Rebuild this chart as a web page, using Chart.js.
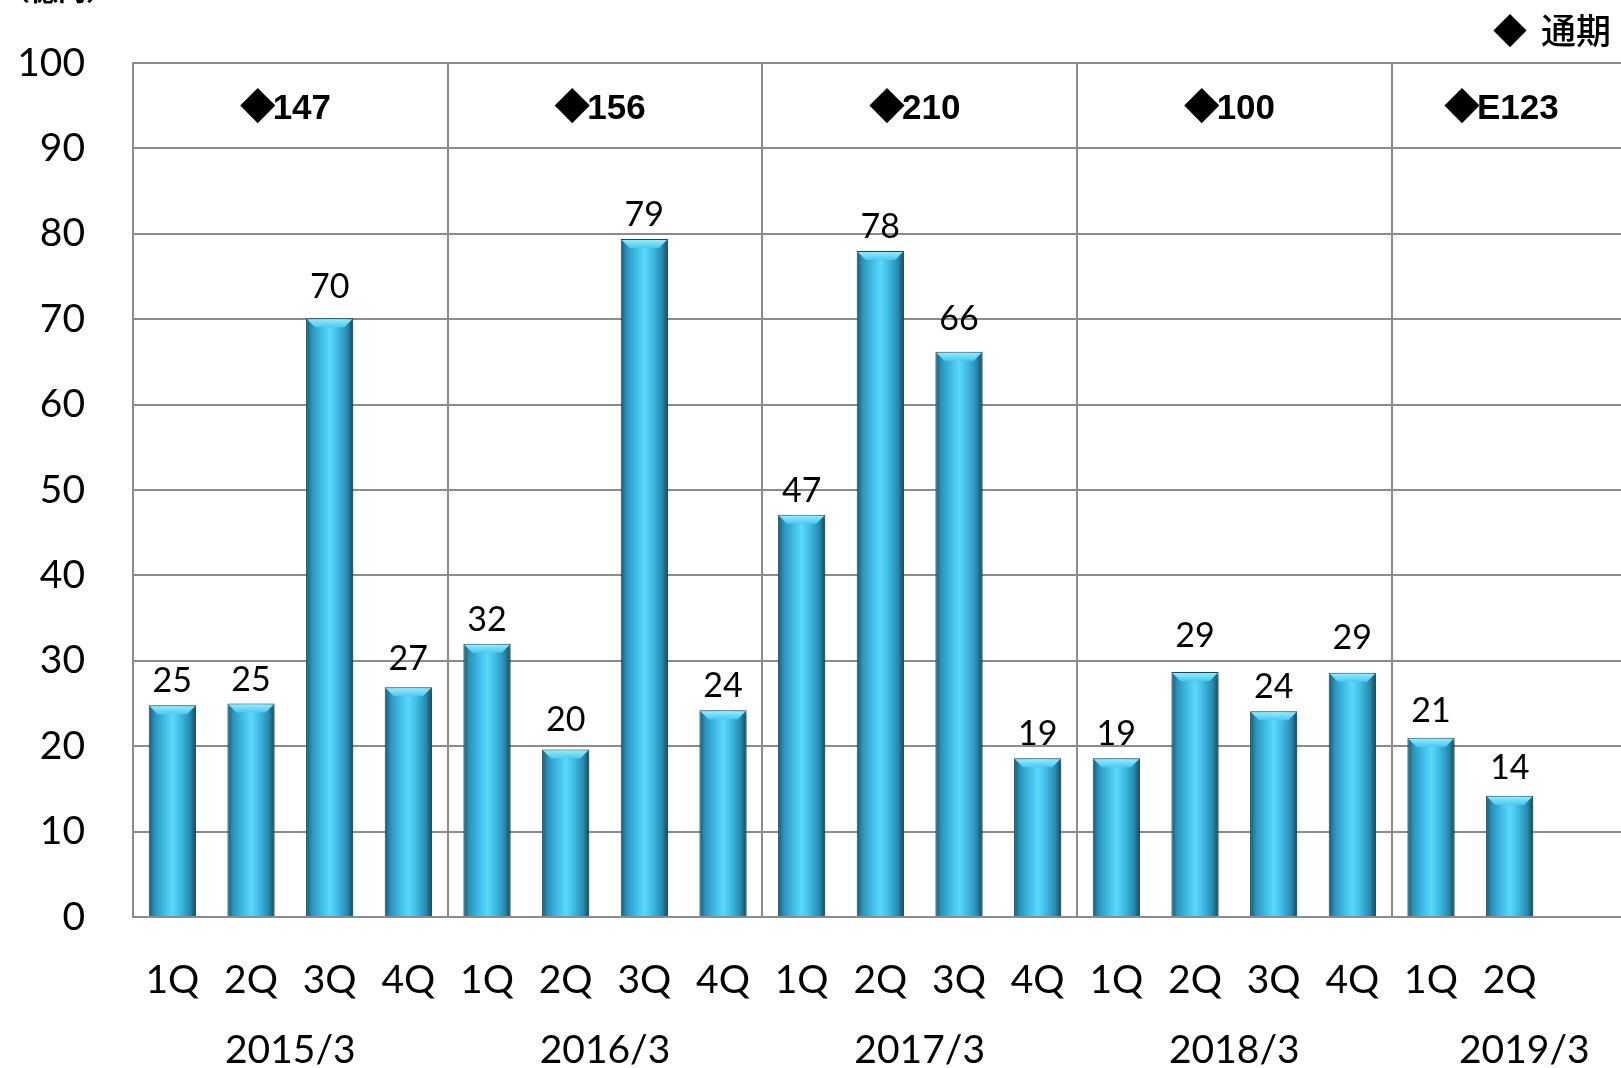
<!DOCTYPE html>
<html><head><meta charset="utf-8">
<script src="https://cdn.jsdelivr.net/npm/chart.js@4.4.0/dist/chart.umd.min.js"></script>
<style>
html,body{margin:0;padding:0;background:#fff;overflow:hidden;width:1621px;height:1068px}
#wrap{position:relative;width:1707px;height:1068px}
</style>
</head><body><div id="wrap"><canvas id="c" width="1707" height="1068"></canvas></div>
<script>
// ---- data ----
const quarters = ['1Q','2Q','3Q','4Q','1Q','2Q','3Q','4Q','1Q','2Q','3Q','4Q','1Q','2Q','3Q','4Q','1Q','2Q','',''];
const fiscalYears = ['2015/3','2016/3','2017/3','2018/3','2019/3'];
const annualTotals = ['147','156','210','100','E123'];
const quarterlyValues = [24.8,25.0,70.1,26.9,32.0,19.6,79.4,24.2,47.1,78.0,66.2,18.6,18.6,28.7,24.1,28.6,21.0,14.2];
const valueLabels = ['25','25','70','27','32','20','79','24','47','78','66','19','19','29','24','29','21','14'];
const yMin = 0, yMax = 100, yStep = 10;
const unitLabel = '（億円）';
const legendLabel = '通期';
const quartersPerYear = 4;

// ---- style ----
const GRID = '#8c8c8c';
const LABEL_GAP = 13;
// extra upward shift (px) of a few manually placed value labels in the original
const labelLift = {2: 7, 3: 4, 5: 6, 10: 9, 13: 12, 15: 11, 16: 3, 17: 4};

const barStyle = {
  id: 'barStyle',
  beforeDatasetsDraw(chart) {
    const ctx = chart.ctx;
    const meta = chart.getDatasetMeta(0);
    meta.data.forEach(el => {
      const {x, width} = el.getProps(['x', 'width'], true);
      const g = ctx.createLinearGradient(x - width / 2, 0, x + width / 2, 0);
      g.addColorStop(0, '#185a73');
      g.addColorStop(0.12, '#2a92ba');
      g.addColorStop(0.35, '#42c0ea');
      g.addColorStop(0.5, '#5cd7fd');
      g.addColorStop(0.65, '#42c0ea');
      g.addColorStop(0.88, '#2788ac');
      g.addColorStop(1, '#14465a');
      el.options = Object.assign({}, el.options, {backgroundColor: g});
    });
    ctx.save();
    ctx.shadowColor = 'rgba(0,0,0,0.3)';
    ctx.shadowBlur = 6;
    ctx.shadowOffsetX = 3;
    ctx.shadowOffsetY = 2;
  },
  afterDatasetsDraw(chart) {
    const ctx = chart.ctx;
    ctx.restore();
    const meta = chart.getDatasetMeta(0);
    meta.data.forEach((el, i) => {
      const {x, y, width} = el.getProps(['x', 'y', 'width'], true);
      const l = x - width / 2 + 1, r = x + width / 2 - 1;
      const h = 9;
      const g = ctx.createLinearGradient(0, y, 0, y + h);
      g.addColorStop(0, '#9af0ff');
      g.addColorStop(1, '#4cc8f0');
      ctx.save();
      ctx.beginPath();
      ctx.moveTo(l, y + 1);
      ctx.lineTo(r, y + 1);
      ctx.lineTo(r - 8, y + h);
      ctx.lineTo(l + 8, y + h);
      ctx.closePath();
      ctx.fillStyle = g;
      ctx.fill();
      ctx.restore();
      // value label
      ctx.save();
      ctx.font = '34px Lato, "Open Sans", sans-serif';
      ctx.fillStyle = '#000';
      ctx.textAlign = 'center';
      ctx.textBaseline = 'alphabetic';
      ctx.fillText(valueLabels[i], x, y - LABEL_GAP - (labelLift[i] || 0));
      ctx.restore();
    });
  }
};

const annotations = {
  id: 'annotations',
  afterDraw(chart) {
    const ctx = chart.ctx;
    const xs = chart.scales.x, ys = chart.scales.y;
    const visibleRight = Math.min(chart.chartArea.right, document.documentElement.clientWidth || 1621);
    const half = (xs.getPixelForValue(1) - xs.getPixelForValue(0)) / 2;
    const bandMid = (ys.getPixelForValue(yMax) + ys.getPixelForValue(yMax - yStep)) / 2;
    fiscalYears.forEach((fy, g) => {
      const left = xs.getPixelForValue(g * quartersPerYear) - half;
      const fullRight = xs.getPixelForValue(g * quartersPerYear + quartersPerYear - 1) + half;
      const right = Math.min(fullRight, visibleRight);
      const cx = (left + right) / 2;
      // header total
      ctx.save();
      ctx.fillStyle = '#000';
      ctx.textBaseline = 'alphabetic';
      const dFont = '36px "Noto Sans CJK JP"';
      const nFont = 'bold 35px "Liberation Sans Narrow", "Liberation Sans", sans-serif';
      ctx.font = dFont;
      const dw = ctx.measureText('◆').width - 3;
      ctx.font = nFont;
      const nw = ctx.measureText(annualTotals[g]).width;
      const start = cx - (dw + nw) / 2 - 5;
      ctx.textAlign = 'left';
      ctx.font = dFont;
      ctx.fillText('◆', start, bandMid + 14);
      ctx.font = nFont;
      ctx.fillText(annualTotals[g], start + dw, bandMid + 13);
      // fiscal year
      ctx.font = '39px Lato, "Open Sans", sans-serif';
      ctx.textAlign = 'center';
      ctx.fillText(fy, cx + (right < fullRight ? 18 : 0), xs.bottom - 5);
      ctx.restore();
    });
    // unit label
    ctx.save();
    ctx.fillStyle = '#000';
    ctx.font = 'bold 28px "Noto Sans CJK JP"';
    ctx.textAlign = 'left';
    ctx.textBaseline = 'alphabetic';
    ctx.fillText(unitLabel, 2, 1);
    // legend
    ctx.textAlign = 'right';
    ctx.font = '500 35px "Noto Sans CJK JP"';
    const lw = ctx.measureText(legendLabel).width;
    ctx.fillText(legendLabel, visibleRight - 10, 44);
    ctx.font = '34px "Noto Sans CJK JP"';
    ctx.fillText('◆', visibleRight - 10 - lw - 14, 44);
    ctx.restore();
  }
};

new Chart(document.getElementById('c'), {
  type: 'bar',
  data: {
    labels: quarters,
    datasets: [{
      data: quarterlyValues,
      backgroundColor: '#3cb6e0',
      borderColor: '#1a4a5c',
      borderWidth: 1,
      borderSkipped: 'bottom',
      categoryPercentage: 1.0,
      barPercentage: 0.6
    }]
  },
  options: {
    responsive: false,
    devicePixelRatio: 1,
    animation: false,
    layout: {padding: {top: 63, right: 0, left: 0, bottom: 0}},
    plugins: {legend: {display: false}, tooltip: {enabled: false}},
    scales: {
      x: {
        offset: true,
        grid: {
          offset: true,
          drawTicks: false,
          lineWidth: 2,
          color: c => (c.index % quartersPerYear === 0 ? GRID : 'rgba(0,0,0,0)')
        },
        border: {display: true, color: GRID, width: 2},
        ticks: {
          font: {family: 'Lato', size: 39},
          color: '#000',
          padding: 40,
          maxRotation: 0,
          autoSkip: false
        },
        afterFit: s => { s.height = 151; }
      },
      y: {
        min: yMin, max: yMax,
        grid: {drawTicks: false, lineWidth: 2, color: GRID},
        border: {display: true, color: GRID, width: 2},
        ticks: {
          stepSize: yStep,
          font: {family: 'Lato', size: 39},
          color: '#000',
          padding: 48
        },
        afterFit: s => { s.width = 133; s.paddingTop = 0; s.paddingBottom = 0; }
      }
    }
  },
  plugins: [barStyle, annotations]
});
</script>
</body></html>
